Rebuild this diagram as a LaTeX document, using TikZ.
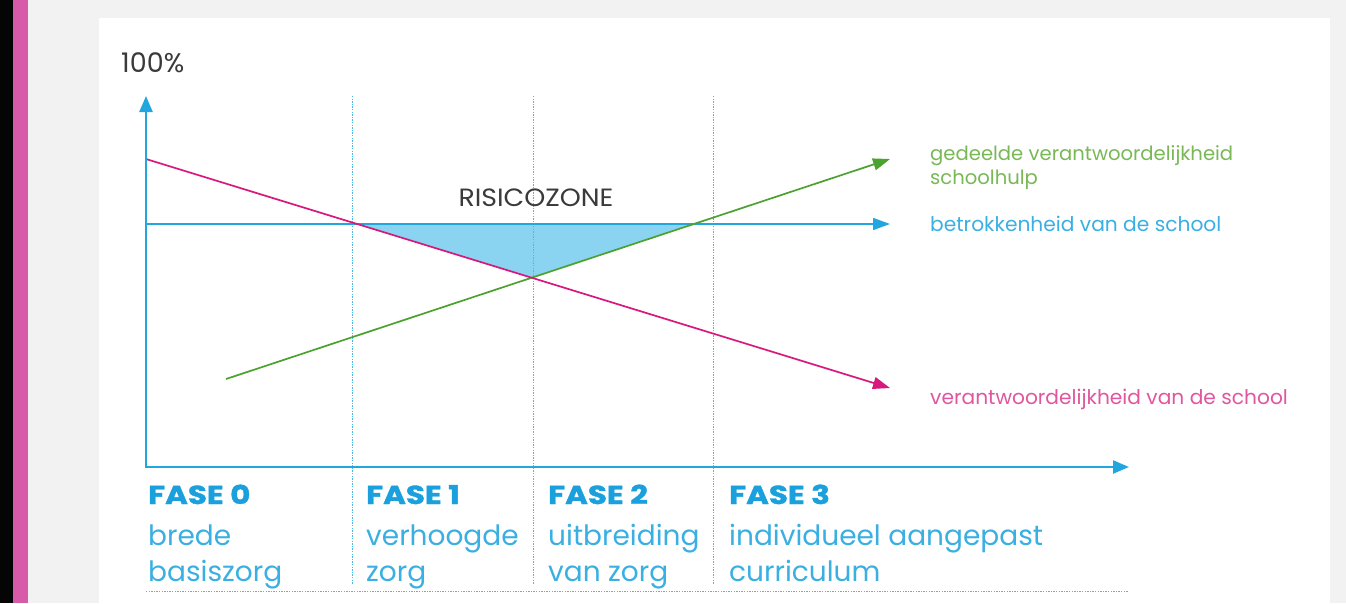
\documentclass[tikz,border=0pt]{standalone}
\usepackage{fontspec}
\setmainfont{Poppins}
\newfontfamily\headfont[FakeStretch=1.19, FakeBold=1.3]{Poppins}
\newfontfamily\rzfont[FakeStretch=1.07]{Poppins}
\usetikzlibrary{arrows.meta}
\definecolor{bggray}{HTML}{F2F2F2}
\definecolor{leftblack}{HTML}{050505}
\definecolor{pinkbar}{HTML}{D95AA8}
\definecolor{axisblue}{HTML}{22A6DF}
\definecolor{dotblue}{HTML}{4DB8E6}
\definecolor{zoneblue}{HTML}{8AD3F1}
\definecolor{magline}{HTML}{D7197E}
\definecolor{magtext}{HTML}{E0569F}
\definecolor{greenline}{HTML}{4CA22E}
\definecolor{greentext}{HTML}{79B856}
\definecolor{bluetext}{HTML}{3AAFE2}
\definecolor{fasetext}{HTML}{1AA0DC}
\definecolor{graytext}{HTML}{3A3A3A}
\tikzset{
  axisline/.style={draw=axisblue, line width=2.4pt, {Triangle[length=16pt,width=13pt]}-{Triangle[length=16pt,width=13pt]}},
  dataline/.style={line width=1.7pt, -{Triangle[length=17pt,width=12pt]}},
  vdot/.style={draw=dotblue, line width=0.9pt, dash pattern=on 1.3pt off 1.3pt},
  legend/.style={anchor=base west, inner sep=0pt, font=\fontsize{20.2}{24}\selectfont},
  fasehead/.style={anchor=base west, inner sep=0pt, text=fasetext, font=\fontsize{26}{30}\headfont\bfseries},
  fasebody/.style={anchor=base west, inner sep=0pt, text=bluetext, font=\fontsize{28}{32}\selectfont},
}
\begin{document}
\begin{tikzpicture}[x=1pt,y=-1pt]
\useasboundingbox (0,0) rectangle (1346,603);
\fill[bggray] (0,0) rectangle (1346,603);
\fill[leftblack] (0,0) rectangle (13,603);
\fill[pinkbar] (13,0) rectangle (28,603);
\fill[white] (99,18) rectangle (1330,603);

% coordinates
\coordinate (O) at (146,467);
\coordinate (ytop) at (146,96);
\coordinate (xend) at (1129,467);
\coordinate (m1) at (146,159);
\coordinate (m2) at (890,388);
\coordinate (g1) at (226,379);
\coordinate (g2) at (890,159);
\coordinate (b1) at (146,224);
\coordinate (b2) at (890,224);

% risk zone
\fill[zoneblue] (intersection of m1--m2 and b1--b2) -- (intersection of g1--g2 and b1--b2) -- (intersection of m1--m2 and g1--g2) -- cycle;

% dotted phase separators
\draw[vdot] (352,96) -- (352,584);
\draw[vdot] (533,96) -- (533,584);
\draw[vdot] (713,96) -- (713,584);
\draw[vdot] (146,591) -- (1128,591);

% data lines
\draw[dataline, draw=axisblue, fill=axisblue] (b1) -- (b2);
\draw[dataline, draw=greenline, fill=greenline] (g1) -- (g2);
\draw[dataline, draw=magline, fill=magline] (m1) -- (m2);

% axes
\draw[axisline] (ytop) -- (O) -- (xend);

% labels
\node[anchor=base west, inner sep=0pt, text=graytext, font=\fontsize{27}{30}\selectfont] (pct) at (121,72) {100\%};
\node[anchor=base, inner sep=0pt, text=graytext, font=\fontsize{25}{28}\rzfont] (rz) at (536,206) {RISICOZONE};
\node[legend, text=greentext, font=\fontsize{19.6}{24}\selectfont] (lg1) at (930,160) {gedeelde verantwoordelijkheid};
\node[legend, text=greentext, font=\fontsize{19.6}{24}\selectfont] (lg2) at (930,184) {schoolhulp};
\node[legend, text=bluetext] (lb) at (930,231) {betrokkenheid van de school};
\node[legend, text=magtext] (lm) at (930,404) {verantwoordelijkheid van de school};

\node[fasehead] (f0) at (148,504) {FASE 0};
\node[fasehead] (f1) at (366,504) {FASE 1};
\node[fasehead] (f2) at (548,504) {FASE 2};
\node[fasehead] (f3) at (729,504) {FASE 3};
\node[fasebody] (f0a) at (148,545) {brede};
\node[fasebody] (f0b) at (148,581) {basiszorg};
\node[fasebody] (f1a) at (366,545) {verhoogde};
\node[fasebody] (f1b) at (366,581) {zorg};
\node[fasebody] (f2a) at (548,545) {uitbreiding};
\node[fasebody] (f2b) at (548,581) {van zorg};
\node[fasebody] (f3a) at (729,545) {individueel aangepast};
\node[fasebody] (f3b) at (729,581) {curriculum};
\end{tikzpicture}
\end{document}
